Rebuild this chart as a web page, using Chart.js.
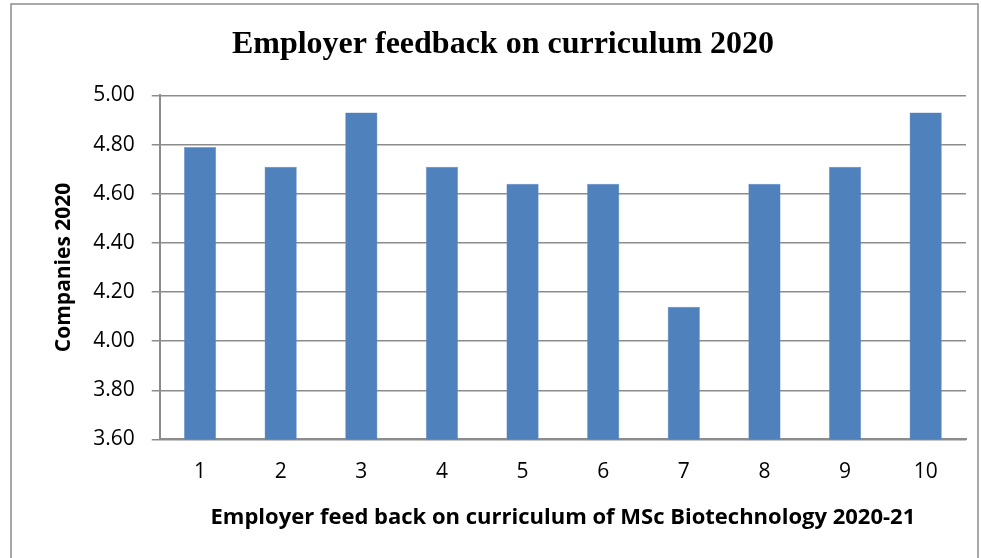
<!DOCTYPE html>
<html>
<head>
<meta charset="utf-8">
<script src="https://cdn.jsdelivr.net/npm/chart.js@4.4.0/dist/chart.umd.min.js"></script>
<style>
  html, body { margin: 0; padding: 0; background: #ffffff; }
  #wrap { width: 981px; height: 558px; position: relative; }
</style>
</head>
<body>
<div id="wrap"><canvas id="myChart" width="981" height="558"></canvas></div>
<script>
// chart data
var categories = ["1", "2", "3", "4", "5", "6", "7", "8", "9", "10"];
var feedbackValues = [4.79, 4.71, 4.93, 4.71, 4.64, 4.64, 4.14, 4.64, 4.71, 4.93];
var yMin = 3.60;
var yMax = 5.00;
var yStep = 0.20;

var chartTitle = "Employer feedback on curriculum 2020";
var xTitle = "Employer feed back on curriculum of MSc Biotechnology 2020-21";
var yTitle = "Companies 2020";

// grey frame round the whole picture
var framePlugin = {
	id: 'frame',
	afterDraw: function(chart){
		var ctx = chart.ctx;
		ctx.save();
		ctx.strokeStyle = '#8c8c8c';
		ctx.lineWidth = 1.5;
		ctx.beginPath();
		ctx.moveTo(11, 600);
		ctx.lineTo(11, 4);
		ctx.lineTo(978, 4);
		ctx.lineTo(978, 600);
		ctx.stroke();
		ctx.restore();
	}
};

var ctx = document.getElementById("myChart");
var myBarChart = new Chart(ctx, {
	type: 'bar',
	data: {
		labels: categories,
		datasets: [
			{
				label: yTitle,
				backgroundColor: '#4F81BD',
				borderColor: '#6f97c9',
				borderWidth: 0.5,
				barPercentage: 0.40,
				categoryPercentage: 1.0,
				data: feedbackValues
			}
		]
	},
	options: {
		responsive: false,
		animation: false,
		layout: {
			padding: { left: 40, right: 15, top: 0, bottom: 27 }
		},
		plugins: {
			legend: { display: false },
			tooltip: { enabled: false },
			title: {
				display: true,
				text: chartTitle,
				color: '#000000',
				font: { family: '"Liberation Serif", "Times New Roman", serif', size: 32, weight: 'bold' },
				padding: { top: 26, bottom: 31 }
			}
		},
		scales: {
			x: {
				grid: { display: false, drawTicks: false },
				border: { display: true, color: '#8c8c8c', width: 2 },
				ticks: {
					color: '#000000',
					padding: 20,
					font: { family: '"Open Sans", sans-serif', size: 21 }
				},
				title: {
					display: true,
					text: xTitle,
					color: '#000000',
					font: { family: '"Open Sans", sans-serif', size: 22, weight: 'bold' },
					padding: { top: 0, bottom: 0 }
				}
			},
			y: {
				min: yMin,
				max: yMax,
				grid: { color: '#8c8c8c', lineWidth: 1.5, tickLength: 8, drawTicks: true },
				border: { display: true, color: '#8c8c8c', width: 2 },
				ticks: {
					stepSize: yStep,
					color: '#000000',
					padding: 17,
					font: { family: '"Open Sans", sans-serif', size: 21 },
					callback: function(value){ return Number(value).toFixed(2); }
				},
				title: {
					display: true,
					text: yTitle,
					color: '#000000',
					font: { family: '"Open Sans", sans-serif', size: 21, weight: 'bold' },
					padding: { top: 11, bottom: 0 }
				}
			}
		}
	},
	plugins: [framePlugin]
});
</script>
</body>
</html>
